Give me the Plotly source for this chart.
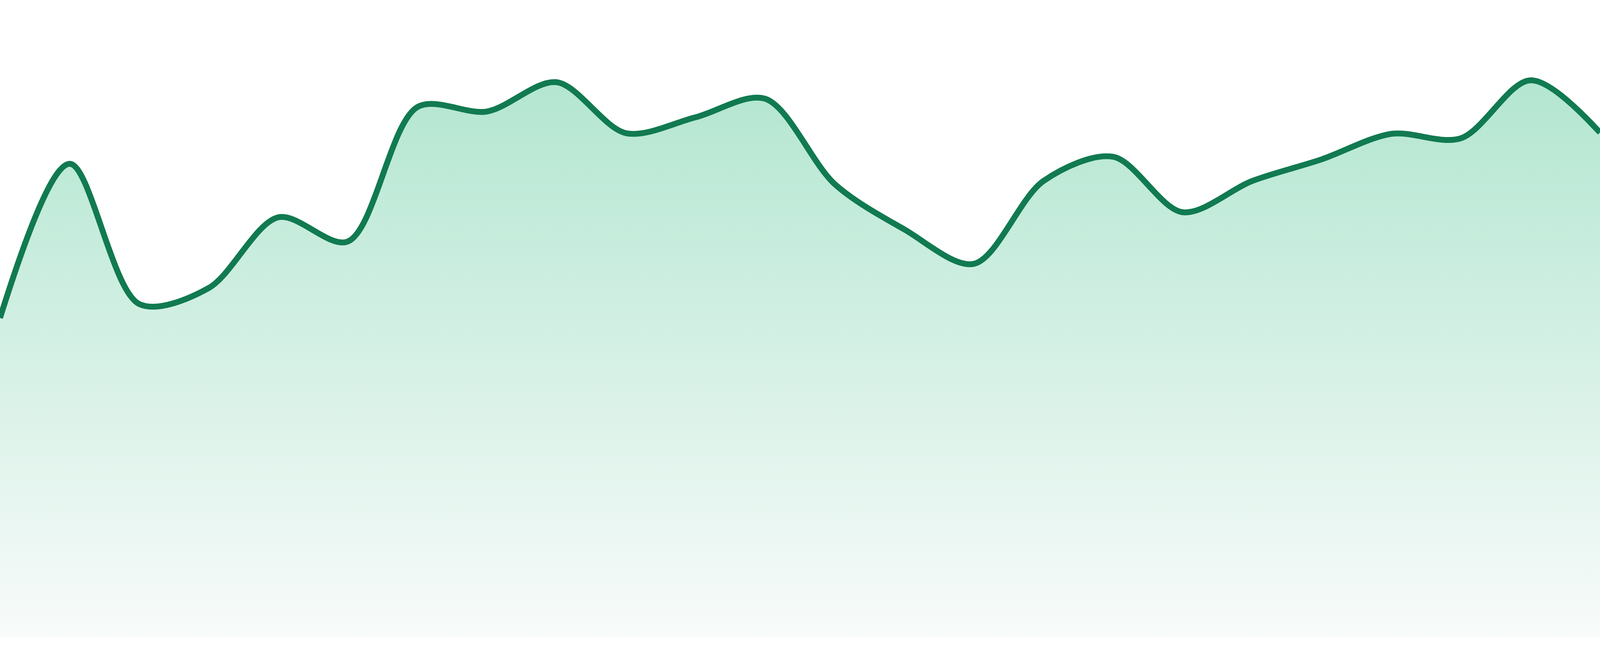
import plotly.graph_objects as go

# daily values
days = list(range(1, 25))
values = [50.1, 74.3, 52.3, 54.8, 65.9, 62.1, 83.2, 82.5, 87.1, 79.1, 81.6, 84.5,
          71.1, 64.0, 58.6, 71.6, 75.4, 66.7, 71.6, 75.0, 79.0, 78.3, 87.4, 79.2]

line_color = "#117a50"

fig = go.Figure()

fig.add_trace(go.Scatter(
    x=days,
    y=values,
    mode="lines",
    line=dict(color=line_color, width=15, shape="spline", smoothing=0.9),
    fill="tozeroy",
    fillgradient=dict(
        type="vertical",
        colorscale=[[0, "rgb(248,251,250)"], [1, "rgb(179,230,209)"]],
    ),
    hoverinfo="x+y",
    showlegend=False,
))

fig.update_layout(
    autosize=True,
    margin=dict(l=0, r=0, t=0, b=48),
    paper_bgcolor="white",
    plot_bgcolor="white",
    xaxis=dict(visible=False, range=[1, 24], fixedrange=True),
    yaxis=dict(visible=False, range=[0, 100], fixedrange=True),
)

# chart fills the whole window, no page margin
fig.write_html(
    "out.html",
    config={"displayModeBar": False, "responsive": True},
    default_width="100vw",
    default_height="100vh",
    post_script="document.body.style.margin='0';document.body.style.overflow='hidden';",
)
